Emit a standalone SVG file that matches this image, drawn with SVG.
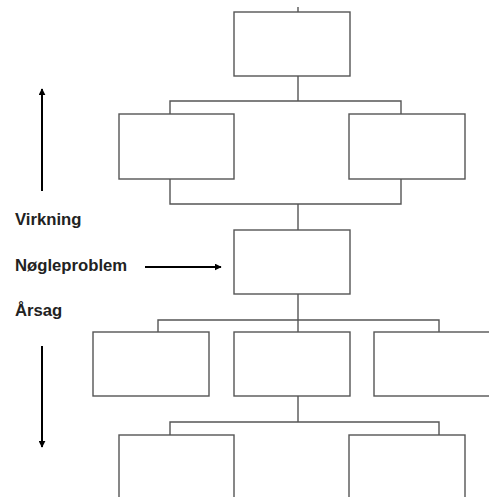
<svg xmlns="http://www.w3.org/2000/svg" width="489" height="497" viewBox="0 0 489 497">
<style>
.box{fill:#fff;stroke:#555;stroke-width:1.4}
.con{fill:none;stroke:#555;stroke-width:1.4}
.arr{fill:none;stroke:#000;stroke-width:2}
.lbl{font-family:"Liberation Sans",Arial,sans-serif;font-weight:bold;font-size:16.7px;fill:#222}
</style>
<defs>
<marker id="ah" viewBox="0 0 10 10" refX="9" refY="5" markerWidth="3.5" markerHeight="3.5" orient="auto" markerUnits="strokeWidth">
<path d="M0,0 L10,5 L0,10 z" fill="#000"/>
</marker>
</defs>
<rect width="489" height="497" fill="#fff"/>
<g id="connectors">
<path class="con" d="M298,7 V12"/>
<path class="con" d="M298,76 V101 M170,114 V101 H401 V114"/>
<path class="con" d="M170,179 V204 H401 V179 M298,204 V230"/>
<path class="con" d="M298,294 V320 M158,332 V320 H439 V332 M298,320 V332"/>
<path class="con" d="M298,396 V422 M170,435 V422 H439 V435"/>
</g>
<g id="n-top"><rect class="box" x="234" y="12" width="116" height="64"/></g>
<g id="n-l1"><rect class="box" x="119" y="114" width="115" height="65"/></g>
<g id="n-r1"><rect class="box" x="349" y="114" width="116" height="65"/></g>
<g id="n-key"><rect class="box" x="234" y="230" width="116" height="64"/></g>
<g id="n-c1"><rect class="box" x="93" y="332" width="116" height="64"/></g>
<g id="n-c2"><rect class="box" x="234" y="332" width="116" height="64"/></g>
<g id="n-c3"><rect class="box" x="374" y="332" width="118" height="64"/></g>
<g id="n-b1"><rect class="box" x="119" y="435" width="115" height="70"/></g>
<g id="n-b2"><rect class="box" x="349" y="435" width="116" height="70"/></g>
<g id="arrows">
<path class="arr" d="M42,191 V89" marker-end="url(#ah)"/>
<path class="arr" d="M42,346 V447" marker-end="url(#ah)"/>
<path class="arr" d="M145,267 H221" marker-end="url(#ah)"/>
</g>
<g id="labels">
<text class="lbl" x="15" y="225">Virkning</text>
<text class="lbl" x="15" y="271">Nøgleproblem</text>
<text class="lbl" x="15" y="316">Årsag</text>
</g>
</svg>
